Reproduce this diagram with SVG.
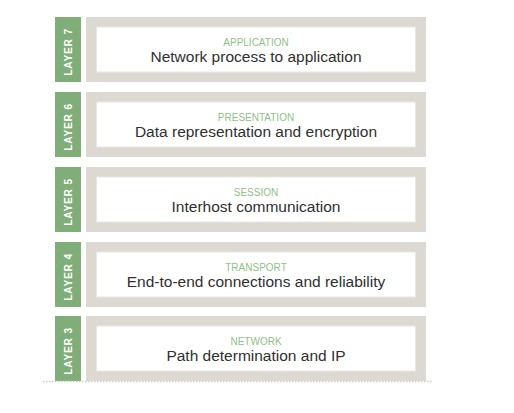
<svg xmlns="http://www.w3.org/2000/svg" width="514" height="413" viewBox="0 0 514 413">
<defs>
<style>
.tab{fill:#7fae78}
.outer{fill:#dcd9d2}
.inner{fill:#ffffff;stroke:#e9e7e2;stroke-width:1}
.tl{font-family:"Liberation Sans",Arial,sans-serif;font-size:10.2px;font-weight:bold;fill:#ffffff;text-anchor:middle;letter-spacing:0.8px}
.cat{font-family:"Liberation Sans",Arial,sans-serif;font-size:10px;fill:#8fbf88;text-anchor:middle}
.main{font-family:"Liberation Sans",Arial,sans-serif;font-size:15.5px;fill:#2f2f2f;text-anchor:middle}
</style>
</defs>
<rect width="514" height="413" fill="#ffffff"/>
<g id="layer7">
<rect class="tab" x="55" y="17" width="26" height="65"/>
<rect class="outer" x="86" y="17" width="340" height="65"/>
<rect class="inner" x="96.5" y="27" width="319" height="45"/>
<text class="tl" transform="translate(71.8,52) rotate(-90)">LAYER 7</text>
<text class="cat" x="256" y="45.5">APPLICATION</text>
<text class="main" x="256" y="61.5">Network process to application</text>
</g>
<g id="layer6">
<rect class="tab" x="55" y="92" width="26" height="65"/>
<rect class="outer" x="86" y="92" width="340" height="65"/>
<rect class="inner" x="96.5" y="102" width="319" height="45"/>
<text class="tl" transform="translate(71.8,127) rotate(-90)">LAYER 6</text>
<text class="cat" x="256" y="120.5">PRESENTATION</text>
<text class="main" x="256" y="136.5">Data representation and encryption</text>
</g>
<g id="layer5">
<rect class="tab" x="55" y="167" width="26" height="65"/>
<rect class="outer" x="86" y="167" width="340" height="65"/>
<rect class="inner" x="96.5" y="177" width="319" height="45"/>
<text class="tl" transform="translate(71.8,202) rotate(-90)">LAYER 5</text>
<text class="cat" x="256" y="195.5">SESSION</text>
<text class="main" x="256" y="211.5">Interhost communication</text>
</g>
<g id="layer4">
<rect class="tab" x="55" y="242" width="26" height="65"/>
<rect class="outer" x="86" y="242" width="340" height="65"/>
<rect class="inner" x="96.5" y="252" width="319" height="45"/>
<text class="tl" transform="translate(71.8,277) rotate(-90)">LAYER 4</text>
<text class="cat" x="256" y="270.5">TRANSPORT</text>
<text class="main" x="256" y="286.5">End-to-end connections and reliability</text>
</g>
<g id="layer3">
<rect class="tab" x="55" y="316" width="26" height="65"/>
<rect class="outer" x="86" y="316" width="340" height="65"/>
<rect class="inner" x="96.5" y="326" width="319" height="45"/>
<text class="tl" transform="translate(71.8,351) rotate(-90)">LAYER 3</text>
<text class="cat" x="256" y="344.5">NETWORK</text>
<text class="main" x="256" y="360.5">Path determination and IP</text>
</g>
<g id="connectors">
<line x1="43" y1="381.5" x2="433" y2="381.5" stroke="#cfccc5" stroke-width="1.5" stroke-dasharray="1.5,1.5"/>
</g>
</svg>
